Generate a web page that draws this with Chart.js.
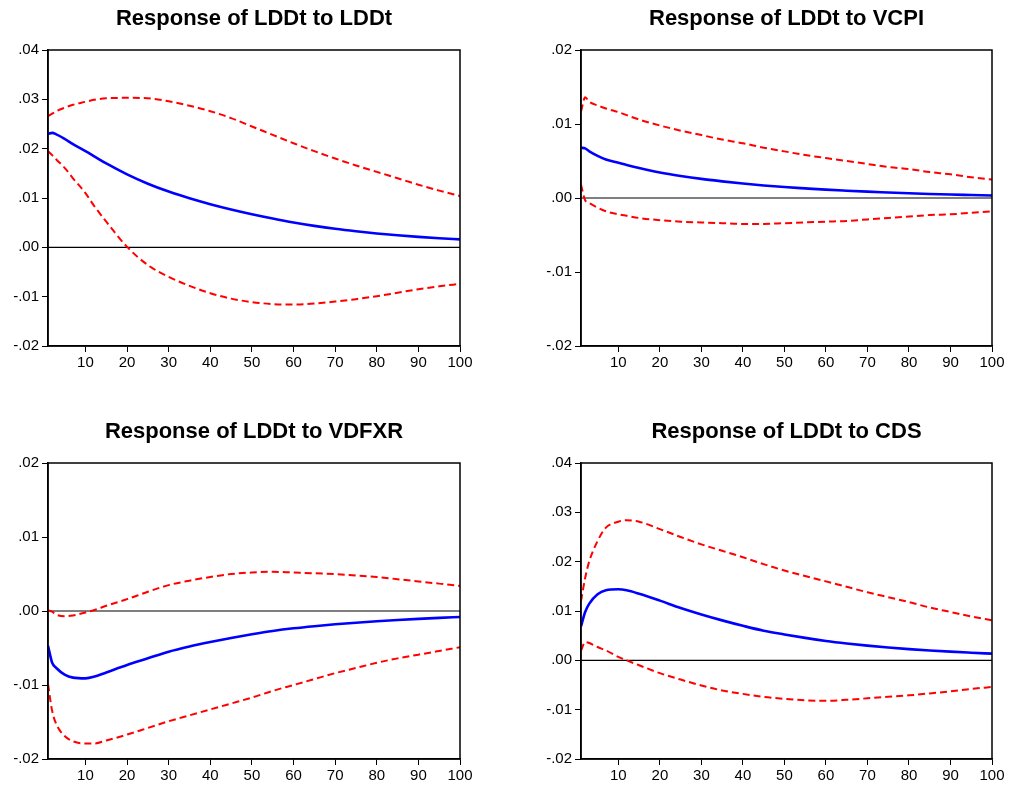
<!DOCTYPE html>
<html>
<head>
<meta charset="utf-8">
<script src="https://cdn.jsdelivr.net/npm/chart.js@4"></script>
<style>
  body { margin: 0; background: #fff; }
  #wrap { position: relative; width: 1010px; height: 789px; }
  canvas { position: absolute; }
</style>
</head>
<body>
<div id="wrap">
  <canvas id="c1" width="505" height="380" style="left:0;top:0"></canvas>
  <canvas id="c2" width="477" height="380" style="left:533px;top:0"></canvas>
  <canvas id="c3" width="505" height="380" style="left:0;top:413px"></canvas>
  <canvas id="c4" width="477" height="380" style="left:533px;top:413px"></canvas>
</div>
<script>
const periods = [1, 2, 3, 5, 7, 10, 12, 15, 20, 25, 30, 35, 40, 45, 50, 55, 60, 65, 70, 75, 80, 85, 90, 95, 100];
const xTicks = [10, 20, 30, 40, 50, 60, 70, 80, 90, 100];

// Response of LDDt to LDDt
const lddResp = [0.0230, 0.0232, 0.0229, 0.0220, 0.0209, 0.0195, 0.0185, 0.0170, 0.0148, 0.0129, 0.0113, 0.00995, 0.00875, 0.00768, 0.00672, 0.00585, 0.00505, 0.00435, 0.00375, 0.00325, 0.00282, 0.00245, 0.00212, 0.00185, 0.00162];
const lddUpper = [0.0266, 0.0271, 0.0276, 0.0283, 0.0289, 0.0295, 0.0299, 0.0302, 0.0303, 0.0302, 0.0296, 0.0287, 0.0276, 0.0262, 0.0245, 0.0228, 0.0211, 0.0195, 0.0180, 0.0166, 0.0153, 0.0140, 0.0127, 0.0115, 0.0104];
const lddLower = [0.0195, 0.0187, 0.0178, 0.0161, 0.0140, 0.0110, 0.0085, 0.0052, 0.0001, -0.0036, -0.0060, -0.0078, -0.0093, -0.0104, -0.0111, -0.0115, -0.0116, -0.0114, -0.0110, -0.0105, -0.0099, -0.0092, -0.0085, -0.0079, -0.0074];

// Response of LDDt to VCPI
const vcpiResp = [0.0068, 0.0067, 0.0063, 0.0057, 0.0052, 0.00475, 0.00445, 0.00405, 0.00345, 0.00298, 0.00258, 0.00225, 0.00195, 0.00170, 0.00148, 0.00130, 0.00113, 0.00099, 0.00086, 0.00075, 0.00064, 0.00055, 0.00047, 0.00040, 0.00033];
const vcpiUpper = [0.0117, 0.0136, 0.0130, 0.0125, 0.0121, 0.0116, 0.0112, 0.0106, 0.0098, 0.0091, 0.0085, 0.0079, 0.0074, 0.0068, 0.0063, 0.0058, 0.0054, 0.0050, 0.0046, 0.0042, 0.0039, 0.0035, 0.0032, 0.0028, 0.0025];
const vcpiLower = [0.0018, -0.0003, -0.0007, -0.0013, -0.0018, -0.0022, -0.0024, -0.0027, -0.0030, -0.0032, -0.0033, -0.0034, -0.0035, -0.0035, -0.0034, -0.0033, -0.0032, -0.0031, -0.0029, -0.0027, -0.0025, -0.0023, -0.0022, -0.0020, -0.0018];

// Response of LDDt to VDFXR
const vdfxrResp = [-0.0047, -0.0070, -0.0077, -0.0086, -0.0090, -0.0091, -0.0089, -0.0083, -0.0073, -0.0064, -0.0055, -0.0048, -0.0042, -0.00365, -0.00315, -0.00270, -0.00234, -0.00205, -0.00180, -0.00158, -0.00138, -0.00121, -0.00106, -0.00093, -0.00081];
const vdfxrUpper = [0.0001, -0.0001, -0.0005, -0.0007, -0.0006, -0.0002, 0.0001, 0.0007, 0.0016, 0.0026, 0.0035, 0.0041, 0.0046, 0.0050, 0.0052, 0.0053, 0.0052, 0.0051, 0.0050, 0.0048, 0.0046, 0.0043, 0.0040, 0.0037, 0.0034];
const vdfxrLower = [-0.0099, -0.0135, -0.0153, -0.0169, -0.0176, -0.0179, -0.0179, -0.0175, -0.0167, -0.0158, -0.0149, -0.0141, -0.0133, -0.0125, -0.0117, -0.0108, -0.0100, -0.0092, -0.0084, -0.0077, -0.0070, -0.0064, -0.0059, -0.0054, -0.0049];

// Response of LDDt to CDS
const cdsResp = [0.0069, 0.0098, 0.0115, 0.0134, 0.0142, 0.0144, 0.0142, 0.0135, 0.0121, 0.0106, 0.0093, 0.0081, 0.0070, 0.0060, 0.00525, 0.00455, 0.00393, 0.00342, 0.00298, 0.00260, 0.00228, 0.00200, 0.00176, 0.00155, 0.00135];
const cdsUpper = [0.0120, 0.0167, 0.0201, 0.0242, 0.0269, 0.0281, 0.0284, 0.0281, 0.0266, 0.0250, 0.0235, 0.0222, 0.0209, 0.0195, 0.0182, 0.0171, 0.0160, 0.0149, 0.0138, 0.0128, 0.0118, 0.0107, 0.0098, 0.0089, 0.0081];
const cdsLower = [0.0020, 0.0037, 0.0035, 0.0027, 0.0020, 0.0007, 0.0000, -0.0010, -0.0026, -0.0039, -0.0051, -0.0061, -0.0068, -0.0074, -0.0078, -0.0081, -0.0082, -0.0080, -0.0077, -0.0074, -0.0071, -0.0067, -0.0063, -0.0058, -0.0054];

const FONT = "'Liberation Sans', Arial, sans-serif";

const frame = {
    id: 'frame',
    afterDraw(chart) {
        const a = chart.chartArea, ctx = chart.ctx;
        ctx.save();
        ctx.strokeStyle = '#000';
        ctx.lineWidth = 1.5;
        ctx.strokeRect(a.left, a.top, a.right - a.left, a.bottom - a.top);
        ctx.restore();
    }
};

function pts(vals) {
    return periods.map((p, i) => ({ x: p, y: vals[i] }));
}

function fmt(v) {
    const r = Math.round(v * 100) / 100;
    if (r === 0) return '.00';
    const s = Math.abs(r).toFixed(2).replace(/^0/, '');
    return (r < 0 ? '-' : '') + s;
}

function makeChart(id, title, resp, upper, lower, yMin, yMax, rightPad) {
    new Chart(document.getElementById(id), {
        type: 'line',
        data: {
            datasets: [
                { data: pts(resp), borderColor: '#0000ff', borderWidth: 2.6, order: 0 },
                { data: pts(upper), borderColor: '#ff0000', borderWidth: 2, borderDash: [7, 4], order: 1 },
                { data: pts(lower), borderColor: '#ff0000', borderWidth: 2, borderDash: [7, 4], order: 2 },
                { data: [{ x: 1, y: 0 }, { x: 100, y: 0 }], borderColor: '#000', borderWidth: 1.2, tension: 0, order: 3 },
            ]
        },
        options: {
            responsive: false,
            animation: false,
            layout: { padding: { left: 0, right: rightPad, top: 0, bottom: 0 } },
            elements: {
                point: { radius: 0 },
                line: { cubicInterpolationMode: 'monotone', fill: false },
            },
            scales: {
                x: {
                    type: 'linear',
                    min: 1,
                    max: 100,
                    afterBuildTicks: (axis) => { axis.ticks = xTicks.map(v => ({ value: v })); },
                    afterFit: (axis) => { axis.height = 34; },
                    grid: { drawOnChartArea: false, drawTicks: true, tickLength: 6, color: '#000' },
                    border: { color: '#000', width: 1.5 },
                    ticks: {
                        autoSkip: false,
                        maxRotation: 0,
                        padding: 2,
                        font: { family: FONT, size: 15 },
                        color: '#000',
                    },
                },
                y: {
                    min: yMin,
                    max: yMax,
                    afterFit: (axis) => { axis.width = 48; },
                    grid: { drawOnChartArea: false, drawTicks: true, tickLength: 6, color: '#000' },
                    border: { color: '#000', width: 1.5 },
                    ticks: {
                        stepSize: 0.01,
                        padding: 3,
                        callback: (v) => fmt(v),
                        font: { family: FONT, size: 15 },
                        color: '#000',
                    },
                },
            },
            plugins: {
                legend: { display: false },
                tooltip: { enabled: false },
                title: {
                    display: true,
                    text: title,
                    fullSize: false,
                    color: '#000',
                    font: { family: FONT, size: 22, weight: 'bold', lineHeight: 1.2 },
                    padding: { top: 5.3, bottom: 18.3 },
                },
            },
        },
        plugins: [frame],
    });
}

makeChart('c1', 'Response of LDDt to LDDt', lddResp, lddUpper, lddLower, -0.02, 0.04, 45);
makeChart('c2', 'Response of LDDt to VCPI', vcpiResp, vcpiUpper, vcpiLower, -0.02, 0.02, 18);
makeChart('c3', 'Response of LDDt to VDFXR', vdfxrResp, vdfxrUpper, vdfxrLower, -0.02, 0.02, 45);
makeChart('c4', 'Response of LDDt to CDS', cdsResp, cdsUpper, cdsLower, -0.02, 0.04, 18);
</script>
</body>
</html>
